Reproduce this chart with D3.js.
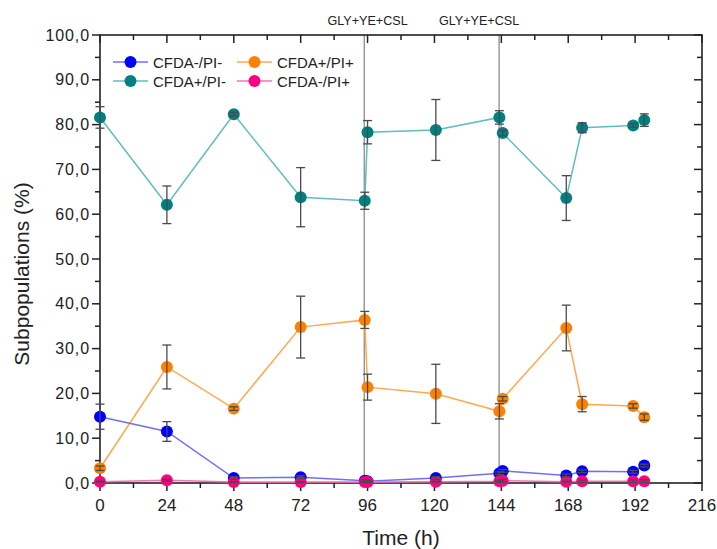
<!DOCTYPE html>
<html>
<head>
<meta charset="utf-8">
<script src="https://cdn.jsdelivr.net/npm/d3@7/dist/d3.min.js"></script>
<style>
  html, body { margin: 0; padding: 0; background: #fff; }
  svg { display: block; font-family: "Liberation Sans", Arial, sans-serif; }
</style>
</head>
<body>
<svg id="chart" width="717" height="549"></svg>
<script>
// Sampling times (h)
const times = [0, 24, 48, 72, 95, 96, 120.5, 143.3, 144.5, 167.3, 173, 191.3, 195.3];

// Subpopulation means (%) and standard deviations
const cfdaNegPiNeg = [14.8, 11.5, 1.1, 1.3, 0.5, 0.4, 1.1, 2.2, 2.7, 1.7, 2.6, 2.5, 3.9];
const cfdaNegPiNegErr = [2.8, 2.2, 0.3, 0.3, 0.2, 0.2, 0.3, 0.3, 0.3, 0.3, 0.3, 0.3, 0.3];

const cfdaPosPiPos = [3.3, 25.9, 16.6, 34.8, 36.4, 21.4, 19.9, 16.0, 18.8, 34.6, 17.6, 17.2, 14.7];
const cfdaPosPiPosErr = [0.5, 4.9, 0.4, 6.9, 1.9, 2.9, 6.6, 1.7, 0.5, 5.1, 1.7, 0.5, 0.7];

const cfdaPosPiNeg = [81.6, 62.1, 82.3, 63.8, 63.0, 78.3, 78.8, 81.6, 78.1, 63.6, 79.3, 79.8, 81.0];
const cfdaPosPiNegErr = [2.4, 4.2, 0.4, 6.6, 1.9, 2.6, 6.8, 1.5, 0.6, 5.0, 1.1, 0.4, 1.4];

const cfdaNegPiPos = [0.3, 0.6, 0.2, 0.2, 0.2, 0.2, 0.3, 0.4, 0.5, 0.3, 0.4, 0.4, 0.4];
const cfdaNegPiPosErr = [0.1, 0.2, 0.1, 0.1, 0.1, 0.1, 0.1, 0.2, 0.3, 0.1, 0.3, 0.3, 0.3];

// Feeding events
const additions = [94.8, 143.2];
const additionLabel = "GLY+YE+CSL";

// Axis ticks
const xTicks = [0, 24, 48, 72, 96, 120, 144, 168, 192, 216];
const xMinorTicks = [12, 36, 60, 84, 108, 132, 156, 180, 204];
const yTicks = [0, 10, 20, 30, 40, 50, 60, 70, 80, 90, 100];
const yMinorTicks = [5, 15, 25, 35, 45, 55, 65, 75, 85, 95];

const seriesNames = ["CFDA-/PI-", "CFDA+/PI+", "CFDA+/PI-", "CFDA-/PI+"];

const series = [
  { name: "CFDA+/PI-", values: cfdaPosPiNeg, err: cfdaPosPiNegErr, fill: "#008080", line: "#62bcbc" },
  { name: "CFDA+/PI+", values: cfdaPosPiPos, err: cfdaPosPiPosErr, fill: "#ff8000", line: "#ffa850" },
  { name: "CFDA-/PI-", values: cfdaNegPiNeg, err: cfdaNegPiNegErr, fill: "#0000ff", line: "#6f6fff" },
  { name: "CFDA-/PI+", values: cfdaNegPiPos, err: cfdaNegPiPosErr, fill: "#ff0080", line: "#ff70b0" }
];

const svg = d3.select("#chart");
const plotL = 100, plotR = 702, plotT = 35, plotB = 483;

const x = d3.scaleLinear().domain([0, 216]).range([plotL, plotR]);
const y = d3.scaleLinear().domain([0, 100]).range([plotB, plotT]);

const axisColor = "#222";
const fmtY = v => d3.format(".1f")(v).replace(".", ",");

// Feeding event markers
svg.append("g").selectAll("line").data(additions).join("line")
  .attr("x1", d => x(d)).attr("x2", d => x(d))
  .attr("y1", plotT).attr("y2", plotB)
  .attr("stroke", "#777").attr("stroke-width", 1.1);

const labelOffsets = [1.2, -7.2];
svg.append("g").selectAll("text").data(additions).join("text")
  .attr("x", (d, i) => x(d + labelOffsets[i]))
  .attr("y", 25)
  .attr("text-anchor", "middle")
  .attr("font-size", 12.6)
  .attr("fill", "#222")
  .text(additionLabel);

// Axes (bottom/left ticks outward, mirrored top/right ticks inward)
const gAxes = svg.append("g");
gAxes.append("rect").attr("x", plotL).attr("y", plotT)
  .attr("width", plotR - plotL).attr("height", plotB - plotT)
  .attr("fill", "none").attr("stroke", axisColor).attr("stroke-width", 1.6);

function xTickLines(vals, len) {
  gAxes.append("g").selectAll("line").data(vals).join("line")
    .attr("x1", d => x(d)).attr("x2", d => x(d))
    .attr("y1", plotB).attr("y2", plotB + len)
    .attr("stroke", axisColor).attr("stroke-width", 1.5);
  gAxes.append("g").selectAll("line").data(vals).join("line")
    .attr("x1", d => x(d)).attr("x2", d => x(d))
    .attr("y1", plotT).attr("y2", plotT + len)
    .attr("stroke", axisColor).attr("stroke-width", 1.5);
}
function yTickLines(vals, len) {
  gAxes.append("g").selectAll("line").data(vals).join("line")
    .attr("x1", plotL - len).attr("x2", plotL)
    .attr("y1", d => y(d)).attr("y2", d => y(d))
    .attr("stroke", axisColor).attr("stroke-width", 1.5);
  gAxes.append("g").selectAll("line").data(vals).join("line")
    .attr("x1", plotR - len).attr("x2", plotR)
    .attr("y1", d => y(d)).attr("y2", d => y(d))
    .attr("stroke", axisColor).attr("stroke-width", 1.5);
}
xTickLines(xTicks, 8);
xTickLines(xMinorTicks, 5);
yTickLines(yTicks, 8);
yTickLines(yMinorTicks, 5);

gAxes.append("g").selectAll("text").data(xTicks).join("text")
  .attr("x", d => x(d)).attr("y", 511)
  .attr("text-anchor", "middle").attr("font-size", 17).attr("fill", "#222")
  .text(d => d);

gAxes.append("g").selectAll("text").data(yTicks).join("text")
  .attr("x", 90).attr("y", d => y(d) + 5.5)
  .attr("text-anchor", "end").attr("font-size", 16).attr("letter-spacing", 0.9)
  .attr("fill", "#222")
  .text(d => fmtY(d));

svg.append("text").attr("x", 401).attr("y", 545)
  .attr("text-anchor", "middle").attr("font-size", 21).attr("fill", "#222")
  .text("Time (h)");

svg.append("text")
  .attr("transform", "translate(29,274) rotate(-90)")
  .attr("text-anchor", "middle").attr("font-size", 21).attr("fill", "#222")
  .text("Subpopulations (%)");

// Series
const line = d3.line().x(d => x(d.t)).y(d => y(d.v));
const gData = svg.append("g");
series.forEach(s => {
  const pts = times.map((t, i) => ({ t, v: s.values[i], e: s.err[i] }));
  gData.append("path").datum(pts).attr("d", line)
    .attr("fill", "none").attr("stroke", s.line).attr("stroke-width", 1.5);
  gData.append("g").selectAll("circle").data(pts).join("circle")
    .attr("cx", d => x(d.t)).attr("cy", d => y(d.v)).attr("r", 6)
    .attr("fill", s.fill);
  s.pts = pts;
});

// Error bars drawn over markers
series.forEach(s => {
  const g = gData.append("g").attr("stroke", "#4a4a4a").attr("stroke-width", 1.3);
  s.pts.forEach(d => {
    const y1 = y(d.v + d.e), y2 = y(Math.max(0, d.v - d.e)), cx = x(d.t);
    g.append("line").attr("x1", cx).attr("x2", cx).attr("y1", y1).attr("y2", y2);
    g.append("line").attr("x1", cx - 4.5).attr("x2", cx + 4.5).attr("y1", y1).attr("y2", y1);
    g.append("line").attr("x1", cx - 4.5).attr("x2", cx + 4.5).attr("y1", y2).attr("y2", y2);
  });
});

// Legend
const legendItems = [
  { name: seriesNames[0], col: 0, row: 0 },
  { name: seriesNames[1], col: 1, row: 0 },
  { name: seriesNames[2], col: 0, row: 1 },
  { name: seriesNames[3], col: 1, row: 1 }
];
const colX = [113, 237], rowY = [62, 81];
const legend = svg.append("g");
legendItems.forEach(it => {
  const s = series.find(d => d.name === it.name);
  const lx = colX[it.col], ly = rowY[it.row];
  legend.append("line").attr("x1", lx).attr("x2", lx + 35).attr("y1", ly).attr("y2", ly)
    .attr("stroke", s.line).attr("stroke-width", 1.5);
  legend.append("circle").attr("cx", lx + 17.5).attr("cy", ly).attr("r", 6).attr("fill", s.fill);
  legend.append("text").attr("x", lx + 40).attr("y", ly + 5.5)
    .attr("font-size", 15).attr("fill", "#222").text(it.name);
});
</script>
</body>
</html>
